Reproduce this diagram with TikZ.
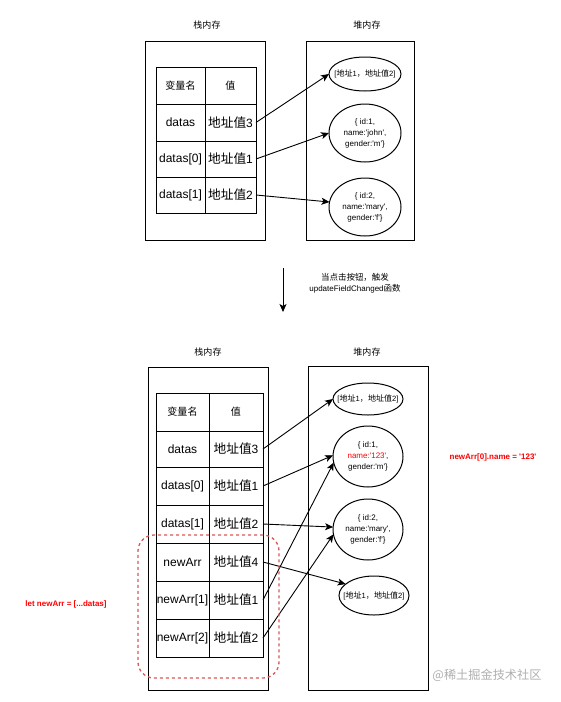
\documentclass[tikz,border=0pt]{standalone}
\usepackage{fontspec}
\setmainfont{Liberation Sans}
\newfontfamily\cjk{Noto Sans CJK SC}[Scale=1.06]
\newcommand\zh[1]{{\cjk #1}}
\newcommand\sq{\textquotesingle}
\usetikzlibrary{arrows.meta,shapes.geometric}
\definecolor{redtxt}{RGB}{255,0,0}
\definecolor{dashred}{RGB}{218,88,88}
\definecolor{wm}{RGB}{175,175,175}
\begin{document}
\begin{tikzpicture}[x=1pt,y=-1pt,
  box/.style={draw, line width=1pt, inner sep=0pt, outer sep=0pt},
  cell/.style={draw, line width=1pt, inner sep=0pt, outer sep=0pt, font=\fontsize{12}{14}\selectfont},
  hcell/.style={cell, font=\fontsize{9.5}{12}\selectfont},
  heap/.style={draw, ellipse, line width=1pt, inner sep=0pt, outer sep=0pt, align=center, font=\fontsize{8}{11}\selectfont},
  wide/.style={inner xsep=-15pt, font=\fontsize{7.6}{10}\selectfont},
  title/.style={font=\fontsize{8.5}{10}\selectfont},
  note/.style={font=\fontsize{8}{10}\selectfont\bfseries, text=redtxt},
  arr/.style={line width=0.9pt, -{Stealth[length=8pt,width=7pt,inset=2pt]}},
]
\useasboundingbox (0,0) rectangle (560,702);
\fill[white] (0,0) rectangle (560,702);

% ---------- top ----------
\node[title] (t1) at (207,25) {\zh{栈内存}};
\node[title] (t2) at (367,25) {\zh{堆内存}};
\node[box, minimum width=120pt, minimum height=199pt] (stackA) at (205,140.5) {};
\node[box, minimum width=108pt, minimum height=199pt] (heapA) at (360,140.5) {};

\node[hcell, minimum width=49pt, minimum height=37pt] (ah1) at (180.5,85.5) {\zh{变量名}};
\node[hcell, minimum width=51pt, minimum height=37pt] (ah2) at (230.5,85.5) {\zh{值}};
\node[cell, minimum width=49pt, minimum height=37pt] (an1) at (180.5,122.5) {datas};
\node[cell, minimum width=51pt, minimum height=37pt] (av1) at (230.5,122.5) {\zh{地址值}3};
\node[cell, minimum width=49pt, minimum height=36pt] (an2) at (180.5,159) {datas[0]};
\node[cell, minimum width=51pt, minimum height=36pt] (av2) at (230.5,159) {\zh{地址值}1};
\node[cell, minimum width=49pt, minimum height=36pt] (an3) at (180.5,195) {datas[1]};
\node[cell, minimum width=51pt, minimum height=36pt] (av3) at (230.5,195) {\zh{地址值}2};

\node[heap, wide, minimum width=72pt, minimum height=34pt] (ha1) at (365,74) {[\zh{地址}1\zh{，地址值}2]};
\node[heap, minimum width=72pt, minimum height=58pt] (ha2) at (365,133) {\{ id:1,\\name:\sq john\sq,\\gender:\sq m\sq\}};
\node[heap, minimum width=72pt, minimum height=58pt] (ha3) at (365,207) {\{ id:2,\\name:\sq mary\sq,\\gender:\sq f\sq\}};

\draw[arr] (av1.east) -- (ha1.west);
\draw[arr] (av2.east) -- (ha2.west);
\draw[arr] (av3.east) -- (ha3.172);

% ---------- middle ----------
\coordinate (m1) at (283,268);
\coordinate (m2) at (283,312);
\draw[arr] (m1) -- (m2);
\node[align=center, font=\fontsize{8}{11}\selectfont] (mt) at (355,283.5) {\zh{当点击按钮，触发}\\updateFieldChanged\zh{函数}};

% ---------- bottom ----------
\node[title] (t3) at (208,352) {\zh{栈内存}};
\node[title] (t4) at (367,352) {\zh{堆内存}};
\node[box, minimum width=120pt, minimum height=323pt] (stackB) at (208,528.5) {};
\node[box, minimum width=120pt, minimum height=324pt] (heapB) at (368,528) {};

\node[hcell, minimum width=53pt, minimum height=38pt] (bh1) at (182.5,412) {\zh{变量名}};
\node[hcell, minimum width=54pt, minimum height=38pt] (bh2) at (236,412) {\zh{值}};
\node[cell, minimum width=53pt, minimum height=36pt] (bn1) at (182.5,449) {datas};
\node[cell, minimum width=54pt, minimum height=36pt] (bv1) at (236,449) {\zh{地址值}3};
\node[cell, minimum width=53pt, minimum height=38pt] (bn2) at (182.5,486) {datas[0]};
\node[cell, minimum width=54pt, minimum height=38pt] (bv2) at (236,486) {\zh{地址值}1};
\node[cell, minimum width=53pt, minimum height=38pt] (bn3) at (182.5,524) {datas[1]};
\node[cell, minimum width=54pt, minimum height=38pt] (bv3) at (236,524) {\zh{地址值}2};
\node[cell, minimum width=53pt, minimum height=38pt] (bn4) at (182.5,562) {newArr};
\node[cell, minimum width=54pt, minimum height=38pt] (bv4) at (236,562) {\zh{地址值}4};
\node[cell, minimum width=53pt, minimum height=38pt] (bn5) at (182.5,600) {newArr[1]};
\node[cell, minimum width=54pt, minimum height=38pt] (bv5) at (236,600) {\zh{地址值}1};
\node[cell, minimum width=53pt, minimum height=38pt] (bn6) at (182.5,638) {newArr[2]};
\node[cell, minimum width=54pt, minimum height=38pt] (bv6) at (236,638) {\zh{地址值}2};

\node[heap, wide, minimum width=70pt, minimum height=32pt] (hb1) at (368,399) {[\zh{地址}1\zh{，地址值}2]};
\node[heap, minimum width=70pt, minimum height=61pt] (hb2) at (368,456.5) {\{ id:1,\\\textcolor{redtxt}{name:\sq 123\sq},\\gender:\sq m\sq\}};
\node[heap, minimum width=70pt, minimum height=61pt] (hb3) at (368,529.5) {\{ id:2,\\name:\sq mary\sq,\\gender:\sq f\sq\}};
\node[heap, wide, minimum width=70pt, minimum height=39pt] (hb4) at (374,595.5) {[\zh{地址}1\zh{，地址值}2]};

\draw[arr] (bv1.east) -- (hb1.west);
\draw[arr] (bv2.east) -- (hb2.178);
\draw[arr] (bv3.east) -- (hb3.176);
\draw[arr] (bv4.east) -- (hb4.158);
\draw[arr] (bv5.east) -- (hb2.190);
\draw[arr] (bv6.east) -- (hb3.188);

\node[draw=dashred, line width=1.3pt, dash pattern=on 3pt off 3pt, rounded corners=16pt,
      minimum width=141pt, minimum height=143pt] (grp) at (208.5,606.5) {};

\node[note] (n1) at (493,457) {newArr[0].name = \sq 123\sq};
\node[note] (n2) at (66,604) {let newArr = [...datas]};

\node[text=wm, font=\fontsize{11.5}{13}\selectfont] (wmk) at (487,675) {\zh{@稀土掘金技术社区}};
\end{tikzpicture}
\end{document}
